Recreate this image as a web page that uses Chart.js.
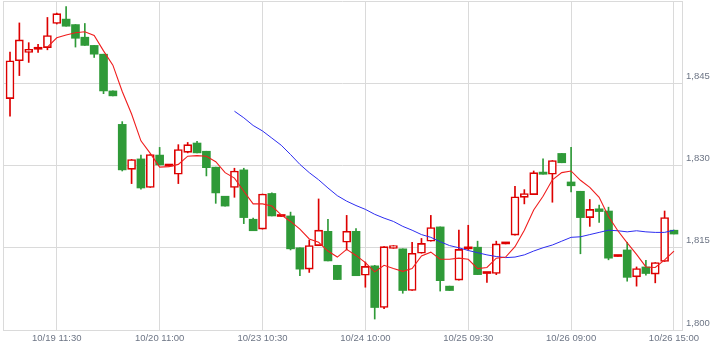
<!DOCTYPE html>
<html>
<head>
<meta charset="utf-8">
<script src="https://cdn.jsdelivr.net/npm/chart.js@4.4.0/dist/chart.umd.min.js"></script>
<style>
    html, body { margin: 0; padding: 0; background: #fff; }
    #wrap { width: 724px; height: 352px; }
</style>
</head>
<body>
<div id="wrap"><canvas id="myChart" width="724" height="352"></canvas></div>
<script>
// candle data, one entry per bar (index 0..71)
const opens = [
    1842.2, 1849.1, 1850.6, 1851.2, 1851.5, 1855.9, 1856.7, 1855.7, 1853.4, 1851.9,
    1850.3, 1843.6, 1837.5, 1829.3, 1831.2, 1826.0, 1831.9, 1829.9, 1828.4, 1832.4,
    1834.1, 1832.6, 1829.7, 1824.4, 1826.0, 1829.2, 1820.2, 1818.4, 1824.9, 1820.7,
    1820.8, 1815.0, 1811.1, 1815.4, 1818.0, 1811.8, 1816.0, 1818.0, 1810.0, 1811.7,
    1804.1, 1814.9, 1814.8, 1807.2, 1814.0, 1816.2, 1818.8, 1808.0, 1809.1, 1814.8,
    1815.1, 1810.3, 1810.3, 1815.7, 1817.3, 1824.2, 1824.7, 1828.8, 1828.4, 1832.2,
    1827.0, 1825.3, 1820.5, 1822.1, 1821.7, 1813.4, 1814.6, 1809.7, 1811.5, 1810.2,
    1812.5, 1818.2
];
const highs = [
    1850.7, 1856.0, 1852.4, 1852.1, 1857.0, 1857.8, 1859.0, 1855.7, 1855.9, 1851.9,
    1850.3, 1843.6, 1838.0, 1831.1, 1831.9, 1832.0, 1833.3, 1829.9, 1833.8, 1834.2,
    1834.4, 1832.6, 1829.7, 1824.4, 1829.5, 1829.5, 1820.4, 1824.8, 1825.0, 1820.7,
    1821.5, 1815.0, 1816.4, 1823.9, 1820.2, 1811.8, 1820.9, 1818.5, 1812.4, 1811.8,
    1815.2, 1815.4, 1814.8, 1816.0, 1816.7, 1820.9, 1818.8, 1808.0, 1818.2, 1819.1,
    1816.2, 1810.3, 1816.2, 1815.7, 1826.2, 1825.6, 1829.0, 1831.2, 1830.9, 1832.2,
    1833.3, 1825.3, 1823.8, 1822.8, 1822.4, 1813.4, 1816.0, 1811.5, 1812.7, 1812.3,
    1821.7, 1818.2
];
const lows = [
    1839.0, 1846.4, 1848.8, 1850.6, 1851.1, 1855.8, 1855.4, 1851.6, 1851.9, 1849.7,
    1843.1, 1842.7, 1829.0, 1826.7, 1825.7, 1826.0, 1830.1, 1829.9, 1826.7, 1832.3,
    1832.3, 1828.1, 1823.1, 1822.6, 1824.2, 1819.4, 1818.1, 1818.4, 1820.8, 1820.7,
    1814.6, 1809.9, 1810.5, 1815.4, 1812.6, 1809.2, 1814.6, 1809.9, 1807.8, 1802.0,
    1803.9, 1814.9, 1806.7, 1807.2, 1814.0, 1816.2, 1807.1, 1807.2, 1809.1, 1814.6,
    1810.1, 1808.7, 1810.1, 1815.7, 1817.3, 1823.0, 1824.7, 1828.4, 1823.3, 1830.5,
    1825.2, 1813.9, 1818.9, 1819.6, 1812.8, 1813.4, 1808.9, 1808.0, 1810.0, 1808.6,
    1812.5, 1817.5
];
const closes = [
    1849.1, 1852.9, 1851.2, 1851.2, 1853.7, 1857.7, 1855.4, 1853.2, 1851.9, 1850.3,
    1843.6, 1842.7, 1829.2, 1831.1, 1825.9, 1832.0, 1830.1, 1829.9, 1832.9, 1833.8,
    1832.3, 1829.6, 1825.0, 1822.6, 1829.0, 1820.5, 1818.1, 1824.8, 1820.8, 1820.7,
    1814.8, 1811.1, 1815.4, 1818.2, 1812.6, 1809.2, 1818.0, 1809.9, 1811.6, 1804.1,
    1815.2, 1815.4, 1807.2, 1814.0, 1815.8, 1818.7, 1809.0, 1807.2, 1814.7, 1814.8,
    1810.1, 1810.3, 1815.7, 1815.7, 1824.3, 1824.9, 1828.7, 1828.4, 1830.9, 1830.5,
    1826.3, 1820.5, 1822.0, 1821.6, 1813.1, 1813.4, 1809.6, 1811.2, 1810.3, 1812.3,
    1820.5, 1817.5
];
// short moving average (red), starts at bar 4
const ma5 = [
    null, null, null, null, 1851.6, 1853.3, 1853.8, 1854.2, 1854.4, 1853.7,
    1850.9, 1848.3, 1843.5, 1839.4, 1834.5, 1832.2, 1829.7, 1829.8, 1830.2, 1831.7,
    1831.8, 1831.7, 1830.7, 1828.7, 1827.7, 1825.3, 1823.0, 1823.0, 1822.6, 1821.0,
    1819.8, 1818.4, 1816.6, 1816.0, 1814.4, 1813.3, 1814.7, 1813.6, 1812.3, 1810.6,
    1811.8, 1811.2, 1810.7, 1811.2, 1813.5, 1814.2, 1812.9, 1812.9, 1813.1, 1812.9,
    1811.2, 1811.4, 1813.1, 1813.3, 1815.2, 1818.2, 1821.9, 1824.4, 1827.4, 1828.7,
    1829.0, 1827.3, 1826.0, 1824.2, 1820.7, 1818.1, 1815.9, 1813.8, 1811.5, 1811.4,
    1812.8, 1814.4
];
// long moving average (blue), starts at bar 24
const ma25 = [
    null, null, null, null, null, null, null, null, null, null,
    null, null, null, null, null, null, null, null, null, null,
    null, null, null, null, 1839.9, 1838.7, 1837.3, 1836.3, 1835.0, 1833.7,
    1832.0, 1830.2, 1828.7, 1827.4, 1825.9, 1824.5, 1823.5, 1822.7, 1822.0, 1821.1,
    1820.4, 1819.8, 1818.9, 1818.2, 1817.4, 1816.9, 1816.1, 1815.4, 1815.0, 1814.5,
    1814.1, 1813.7, 1813.4, 1813.2, 1813.3, 1813.7, 1814.4, 1815.0, 1815.5, 1816.2,
    1816.9, 1817.0, 1817.4, 1817.8, 1818.2, 1818.1, 1817.9, 1818.1, 1817.9, 1817.8,
    1817.8, 1818.2
];
// x axis labels and the bar index they sit on
const tickLabels = ["10/19 11:30", "10/20 11:00", "10/23 10:30", "10/24 10:00", "10/25 09:30", "10/26 09:00", "10/26 15:00"];
const tickIndex = [5, 16, 27, 38, 49, 60, 71];
const yTicks = [1800, 1815, 1830, 1845, 1860];

const RED = "rgb(221, 0, 0)";
const GREEN = "rgb(47, 154, 56)";
const GRID = "#dadada";
const LABEL = "#6d7585";
const FONT = {family: "'Liberation Sans', Arial, sans-serif", size: 9.5};
const X_MIN = -0.75;
const X_MAX = 71.86;

const bodies = [];
const wicks = [];
const bodyFill = [];
const bodyBorder = [];
const bodyBorderWidth = [];
const wickColor = [];
for (let i = 0; i < opens.length; i++) {
    const up = closes[i] > opens[i];
    const down = closes[i] < opens[i];
    bodies.push({x: i, y: [opens[i], closes[i]]});
    wicks.push({x: i, y: [lows[i], highs[i]]});
    bodyFill.push(up ? "#ffffff" : (down ? GREEN : RED));
    bodyBorder.push(down ? GREEN : RED);
    bodyBorderWidth.push(up ? 1.6 : 0);
    wickColor.push(down ? GREEN : RED);
}

// keep the plot box fixed: no extra room for edge labels
function noPadding(scale) {
    scale.paddingTop = 0;
    scale.paddingBottom = 0;
    scale.paddingLeft = 0;
    scale.paddingRight = 0;
}

const ctx = document.getElementById("myChart").getContext("2d");
const chart = new Chart(ctx, {
    type: "bar",
    data: {
        datasets: [
            {
                type: "line",
                data: ma5.map((v, i) => ({x: i, y: v})),
                borderColor: "rgb(240, 30, 30)",
                borderWidth: 1.1,
                pointRadius: 0,
                tension: 0,
                order: 0,
            },
            {
                type: "line",
                data: ma25.map((v, i) => ({x: i, y: v})),
                borderColor: "rgb(45, 45, 240)",
                borderWidth: 1,
                pointRadius: 0,
                tension: 0,
                order: 0,
            },
            {
                data: bodies,
                backgroundColor: bodyFill,
                borderColor: bodyBorder,
                borderWidth: bodyBorderWidth,
                borderSkipped: false,
                barThickness: 8,
                minBarLength: 2,
                grouped: false,
                order: 1,
            },
            {
                data: wicks,
                backgroundColor: wickColor,
                borderWidth: 0,
                barThickness: 1,
                grouped: false,
                order: 2,
            },
        ],
    },
    options: {
        responsive: false,
        animation: false,
        devicePixelRatio: 1,
        layout: {padding: {left: 3, top: 1, right: 0, bottom: 0}},
        plugins: {
            legend: {display: false},
            tooltip: {enabled: false},
        },
        scales: {
            x: {
                type: "linear",
                min: X_MIN,
                max: X_MAX,
                offset: false,
                afterBuildTicks: (scale) => {
                    scale.ticks = [X_MIN].concat(tickIndex).map((v) => ({value: v}));
                },
                afterFit: (scale) => {
                    scale.height = 22;
                    noPadding(scale);
                },
                ticks: {
                    autoSkip: false,
                    maxRotation: 0,
                    padding: 3,
                    color: LABEL,
                    font: FONT,
                    callback: (v) => {
                        const k = tickIndex.indexOf(v);
                        return k < 0 ? "" : tickLabels[k];
                    },
                },
                grid: {color: GRID, drawTicks: false, offset: false},
                border: {color: GRID},
            },
            y: {
                position: "right",
                min: yTicks[0],
                max: yTicks[yTicks.length - 1],
                afterBuildTicks: (scale) => {
                    scale.ticks = yTicks.map((v) => ({value: v}));
                },
                afterFit: (scale) => {
                    scale.width = 42;
                    noPadding(scale);
                },
                ticks: {
                    padding: 4,
                    labelOffset: -7,
                    color: LABEL,
                    font: FONT,
                    callback: (v) => (v === 1860 ? "" : v.toLocaleString("en-US")),
                },
                grid: {color: GRID, drawTicks: false},
                border: {color: GRID},
            },
        },
    },
});
</script>
</body>
</html>
